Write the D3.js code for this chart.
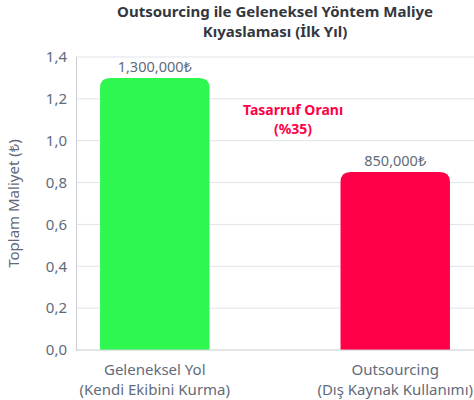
<!DOCTYPE html>
<html>
<head>
<meta charset="utf-8">
<script src="https://cdn.jsdelivr.net/npm/d3@7"></script>
<style>
  body { margin: 0; background: #fff; }
  text { font-family: "Noto Sans", "Open Sans", sans-serif; }
</style>
</head>
<body>
<div id="chart"></div>
<script>
// data
var categories = ["Geleneksel Yol|(Kendi Ekibini Kurma)", "Outsourcing|(Dış Kaynak Kullanımı)"];
var costs = [1300000, 850000];
var barColors = ["#2ef84f", "#ff0048"];
var valueLabels = ["1,300,000₺", "850,000₺"];
var yTicks = [0, 0.2, 0.4, 0.6, 0.8, 1.0, 1.2, 1.4];

var W = 474, H = 400;
var margin = { top: 57, right: 0, bottom: 50, left: 76 };

var svg = d3.select("#chart").append("svg")
    .attr("width", W).attr("height", H);

var x = d3.scaleBand()
    .domain(categories)
    .range([margin.left, W - margin.right])
    .paddingInner(0.545)
    .paddingOuter(0.1);

var y = d3.scaleLinear()
    .domain([0, 1.4])
    .range([H - margin.bottom, margin.top]);

var grey = "#5f6b7a";

// gridlines
svg.append("g").selectAll("line").data(yTicks.slice(1)).enter().append("line")
    .attr("x1", margin.left).attr("x2", W)
    .attr("y1", d => y(d)).attr("y2", d => y(d))
    .attr("stroke", "#e1e3e8").attr("stroke-width", 1);

// y axis
var yAxis = svg.append("g")
    .attr("transform", "translate(" + margin.left + ",0)")
    .call(d3.axisLeft(y).tickValues(yTicks).tickSize(0).tickPadding(9)
        .tickFormat(d => d3.format(".1f")(d).replace(".", ",")));
yAxis.select(".domain").attr("stroke", "#c9ccd3");
yAxis.selectAll(".tick text").attr("fill", grey).style("font-size", "15px");

// bars with rounded tops
function barPath(x0, w, yTop, yBase, r) {
    return "M" + x0 + "," + yBase +
        "L" + x0 + "," + (yTop + r) +
        "Q" + x0 + "," + yTop + " " + (x0 + r) + "," + yTop +
        "L" + (x0 + w - r) + "," + yTop +
        "Q" + (x0 + w) + "," + yTop + " " + (x0 + w) + "," + (yTop + r) +
        "L" + (x0 + w) + "," + yBase + "Z";
}

svg.append("g").selectAll("path").data(categories).enter().append("path")
    .attr("d", (d, i) => barPath(x(d), x.bandwidth(), y(costs[i] / 1e6), y(0), 10))
    .attr("fill", (d, i) => barColors[i]);

// x axis baseline
svg.append("line")
    .attr("x1", margin.left).attr("x2", W)
    .attr("y1", y(0)).attr("y2", y(0))
    .attr("stroke", "#c9ccd3");

// value labels
svg.append("g").selectAll("text").data(categories).enter().append("text")
    .attr("x", d => x(d) + x.bandwidth() / 2)
    .attr("y", (d, i) => y(costs[i] / 1e6) - 6)
    .attr("text-anchor", "middle")
    .attr("fill", grey).style("font-size", "14.5px")
    .text((d, i) => valueLabels[i]);

// category labels
var cat = svg.append("g").selectAll("text").data(categories).enter().append("text")
    .attr("text-anchor", "middle")
    .attr("fill", grey).style("font-size", "15px");
cat.selectAll("tspan").data(d => d.split("|").map(s => ({ s: s, d: d }))).enter().append("tspan")
    .attr("x", o => x(o.d) + x.bandwidth() / 2)
    .attr("y", (o, i) => y(0) + 25 + i * 20)
    .text(o => o.s);

// y title
svg.append("text")
    .attr("transform", "translate(19," + ((margin.top + y(0)) / 2) + ") rotate(-90)")
    .attr("text-anchor", "middle")
    .attr("fill", grey).style("font-size", "15px")
    .text("Toplam Maliyet (₺)");

// title
var title = svg.append("text")
    .attr("text-anchor", "middle")
    .attr("fill", "#333740").style("font-size", "15px").style("font-weight", "bold");
title.append("tspan").attr("x", (margin.left + W) / 2).attr("y", 17).text("Outsourcing ile Geleneksel Yöntem Maliye");
title.append("tspan").attr("x", (margin.left + W) / 2).attr("y", 37).text("Kıyaslaması (İlk Yıl)");

// annotation
var note = svg.append("text")
    .attr("text-anchor", "middle")
    .attr("fill", "#ff0048").style("font-size", "14px").style("font-weight", "bold");
note.append("tspan").attr("x", 293).attr("y", 115).text("Tasarruf Oranı");
note.append("tspan").attr("x", 293).attr("y", 134).text("(%35)");
</script>
</body>
</html>
